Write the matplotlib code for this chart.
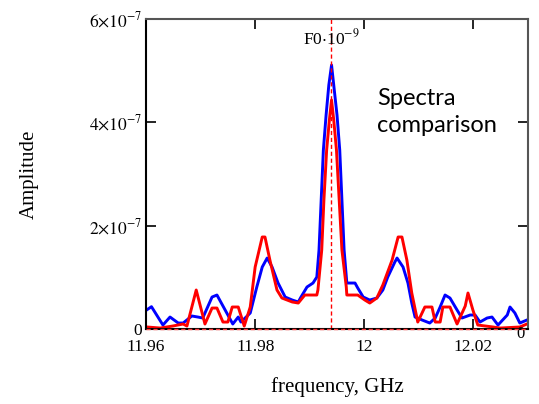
import numpy as np
import matplotlib
matplotlib.use("Agg")
import matplotlib.pyplot as plt

plt.rcParams['mathtext.fontset'] = 'stix'
plt.rcParams['font.family'] = ['Liberation Serif', 'DejaVu Serif']

# frequency (GHz) and amplitude for the two spectra
freq_blue = [11.9601, 11.9610, 11.9631, 11.9644, 11.9659, 11.9668, 11.9684, 11.9695,
             11.9704, 11.9721, 11.9730, 11.9748, 11.9759, 11.9769, 11.9774, 11.9791,
             11.9803, 11.9813, 11.9822, 11.9831, 11.9842, 11.9855, 11.9868, 11.9879,
             11.9884, 11.9895, 11.9906, 11.9913, 11.9917, 11.9921, 11.9925, 11.9930,
             11.9935, 11.9940, 11.9944, 11.9950, 11.9955, 11.9959, 11.9963, 11.9968,
             11.9983, 11.9988, 11.9998, 12.0010, 12.0023, 12.0034, 12.0043, 12.0056,
             12.0060, 12.0071, 12.0080, 12.0087, 12.0093, 12.0106, 12.0120, 12.0130,
             12.0139, 12.0148, 12.0157, 12.0170, 12.0179, 12.0194, 12.0203, 12.0212,
             12.0225, 12.0234, 12.0245, 12.0262, 12.0267, 12.0276, 12.0285, 12.0298]
amp_blue = [0.368, 0.432, 0.077, 0.232, 0.116, 0.116, 0.252, 0.232,
            0.213, 0.619, 0.658, 0.310, 0.097, 0.232, 0.135, 0.310,
            0.813, 1.200, 1.374, 1.200, 0.890, 0.619, 0.561, 0.523,
            0.619, 0.813, 0.890, 1.006, 1.529, 2.497, 3.465, 4.142,
            4.723, 5.110, 4.723, 4.142, 3.465, 2.497, 1.529, 0.890,
            0.890, 0.794, 0.619, 0.561, 0.600, 0.755, 1.006, 1.297,
            1.374, 1.200, 0.890, 0.503, 0.232, 0.174, 0.116, 0.213,
            0.426, 0.658, 0.600, 0.368, 0.213, 0.271, 0.271, 0.135,
            0.213, 0.232, 0.077, 0.271, 0.426, 0.310, 0.116, 0.174]

freq_red = [11.9602, 11.9626, 11.9649, 11.9668, 11.9675, 11.9692, 11.9708, 11.9721,
            11.9730, 11.9741, 11.9750, 11.9758, 11.9769, 11.9780, 11.9791, 11.9800,
            11.9813, 11.9818, 11.9827, 11.9840, 11.9849, 11.9868, 11.9879, 11.9891,
            11.9913, 11.9915, 11.9922, 11.9926, 11.9931, 11.9936, 11.9940, 11.9944,
            11.9949, 11.9954, 11.9959, 11.9967, 11.9968, 11.9988, 12.0001, 12.0010,
            12.0023, 12.0034, 12.0051, 12.0062, 12.0069, 12.0078, 12.0087, 12.0098,
            12.0111, 12.0124, 12.0130, 12.0139, 12.0144, 12.0157, 12.0170, 12.0185,
            12.0190, 12.0199, 12.0208, 12.0236, 12.0249, 12.0285, 12.0298]
amp_red = [0.039, 0.019, 0.058, 0.097, 0.058, 0.755, 0.097, 0.406,
           0.406, 0.135, 0.135, 0.426, 0.426, 0.058, 0.426, 1.200,
           1.781, 1.781, 1.336, 0.755, 0.600, 0.523, 0.503, 0.658,
           0.658, 0.755, 1.529, 2.497, 3.465, 4.045, 4.432, 4.045,
           3.465, 2.497, 1.529, 0.813, 0.658, 0.658, 0.561, 0.503,
           0.600, 0.852, 1.336, 1.781, 1.781, 1.336, 0.697, 0.135,
           0.426, 0.426, 0.135, 0.135, 0.426, 0.426, 0.097, 0.445,
           0.697, 0.368, 0.077, 0.039, 0.019, 0.039, 0.097]

F0 = 11.9939
xticks = [11.96, 11.98, 12.0, 12.02]
xticklabels = ['11.96', '11.98', '12', '12.02']
yticks = [0, 2e-7, 4e-7, 6e-7]
yticklabels = ['0', r'$2{\times}10^{-7}$', r'$4{\times}10^{-7}$', r'$6{\times}10^{-7}$']

fig = plt.figure(figsize=(5.39, 4.04), dpi=100)
ax = fig.add_axes([0.2709, 0.1856, 0.7087, 0.7673])

ax.plot(freq_blue, np.array(amp_blue) * 1e-7, color='#0000ff', lw=2.1)
ax.plot(freq_red, np.array(amp_red) * 1e-7, color='#ff0000', lw=2.1)
ax.axvline(F0, color='#ff0000', lw=1.0, ls=(0, (3, 2)))
ax.axhline(0, color='#ff4040', lw=1.0, ls=(0, (3, 2)), zorder=5, clip_on=False)

ax.set_xlim(11.96, 12.03)
ax.set_ylim(0, 6e-7)
ax.set_xticks(xticks)
ax.set_xticklabels(xticklabels)
ax.set_yticks(yticks)
ax.set_yticklabels(yticklabels)
ax.tick_params(direction='in', length=7, width=1.2, labelsize=12.5,
               top=True, right=True)
ax.tick_params(axis='x', pad=7)
ax.tick_params(axis='y', pad=3)

for s in ['left', 'bottom']:
    ax.spines[s].set_color('black')
for s in ['top', 'right']:
    ax.spines[s].set_color('#555555')
for s in ax.spines.values():
    s.set_linewidth(1.5)

ax.set_xlabel('frequency, GHz', fontsize=15, labelpad=16)
ax.set_ylabel('Amplitude', fontsize=15, labelpad=36)

ax.text(F0, 5.63e-7, r'F0$\cdot$10$^{-9}$', ha='center', va='center', fontsize=12.5)
ax.text(12.0293, -0.1e-7, '0', ha='right', va='center', fontsize=12)
ax.text(12.0024, 4.2e-7, 'Spectra\ncomparison', ha='left', va='center',
        fontsize=17, family=['Lato', 'DejaVu Sans'], linespacing=1.4)

fig.savefig('out.png', dpi=100)
